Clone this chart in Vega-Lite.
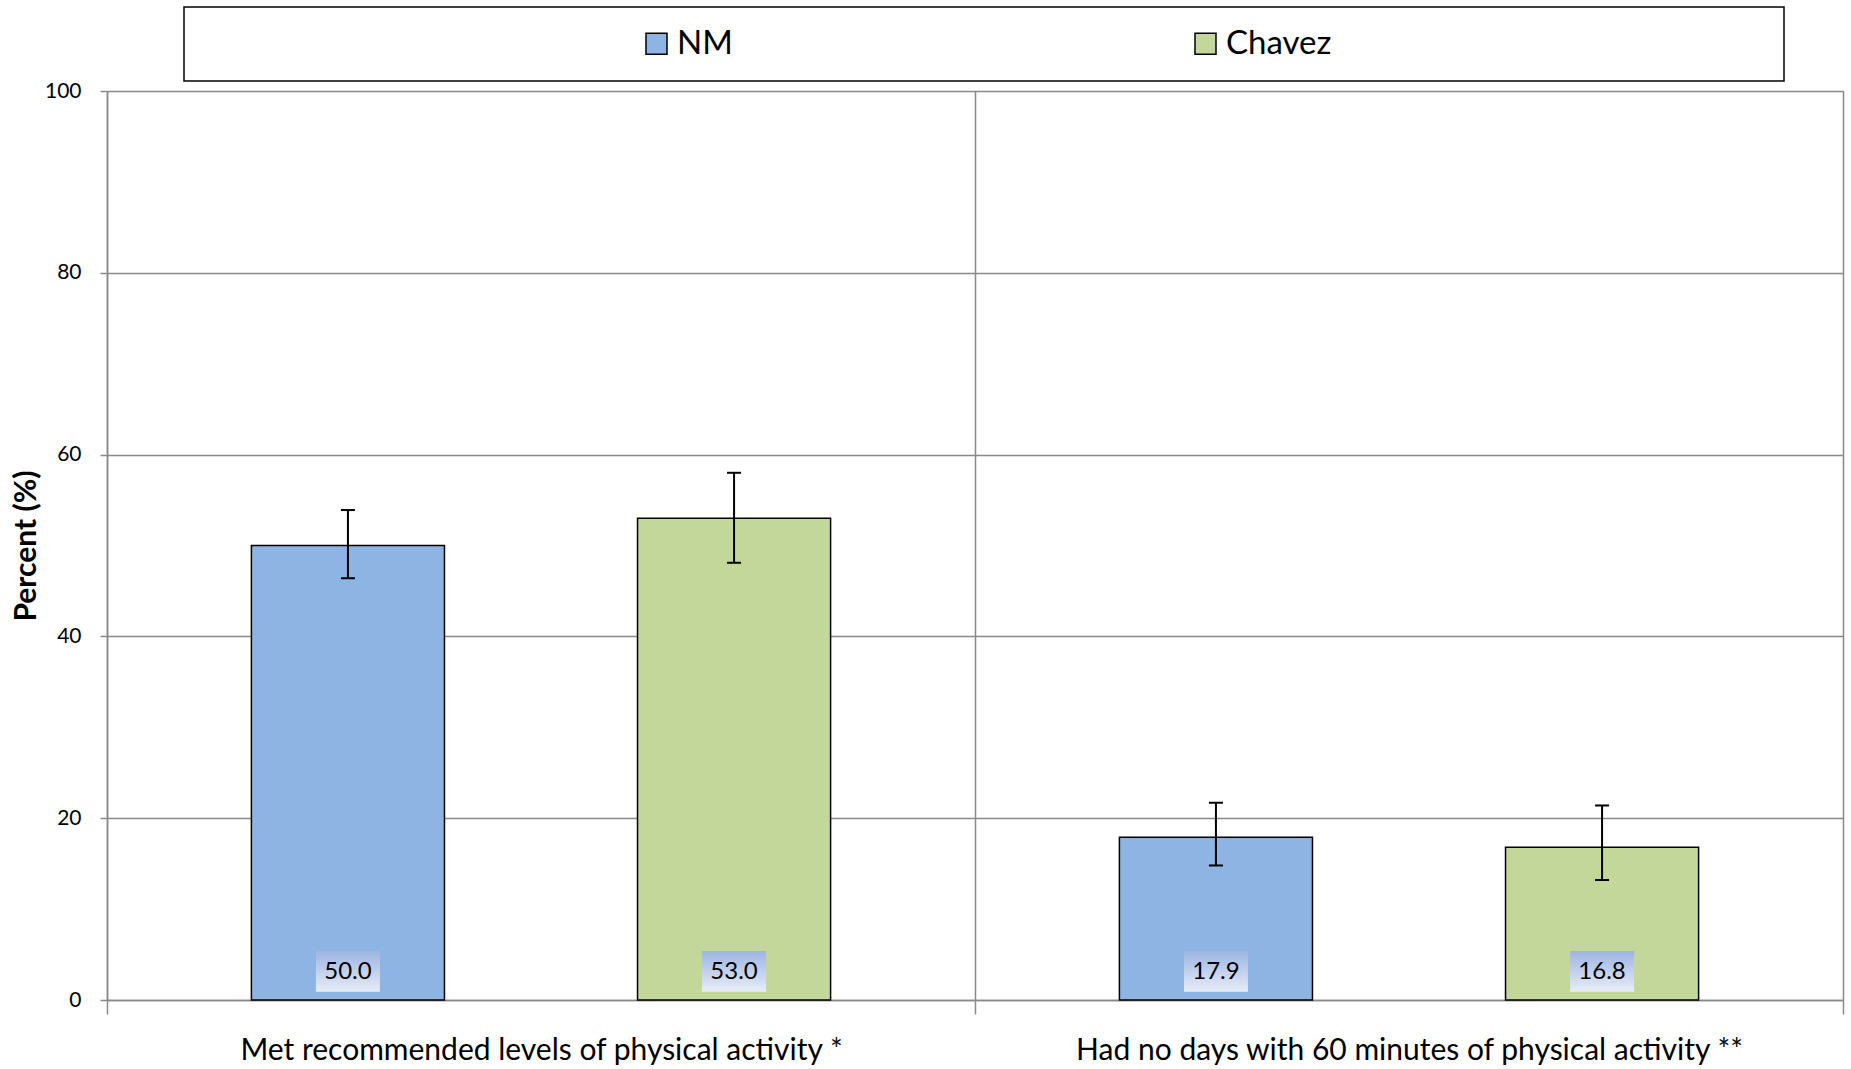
{
  "$schema": "https://vega.github.io/schema/vega-lite/v6.json",
  "width": 1736,
  "height": 909,
  "autosize": {"type": "none"},
  "padding": {"left": 107, "top": 91, "right": 8, "bottom": 69},
  "background": "white",
  "config": {"font": "Lato", "view": {"stroke": null}, "legend": {"strokeWidth": 1.5}},
  "data": {
    "values": [
      {"measure": "Met recommended levels of physical activity *", "group": "NM", "pct": 50.0, "lo": 46.4, "hi": 53.9},
      {"measure": "Met recommended levels of physical activity *", "group": "Chavez", "pct": 53.0, "lo": 48.1, "hi": 58.0},
      {"measure": "Had no days with 60 minutes of physical activity **", "group": "NM", "pct": 17.9, "lo": 14.8, "hi": 21.7},
      {"measure": "Had no days with 60 minutes of physical activity **", "group": "Chavez", "pct": 16.8, "lo": 13.2, "hi": 21.4}
    ]
  },
  "encoding": {
    "x": {
      "field": "measure",
      "type": "nominal",
      "sort": null,
      "scale": {"paddingInner": 0, "paddingOuter": 0},
      "axis": {
        "title": null,
        "labelAngle": 0,
        "labelFontSize": 30,
        "labelColor": "black",
        "labelLimit": 1000,
        "tickBand": "extent",
        "tickSize": 14,
        "tickWidth": 1.5,
        "tickColor": "#898989",
        "labelPadding": 21,
        "grid": true,
        "gridColor": "#898989",
        "gridWidth": 1.5,
        "domainColor": "#898989",
        "domainWidth": 1.5
      }
    },
    "xOffset": {
      "field": "group",
      "type": "nominal",
      "sort": ["NM", "Chavez"],
      "scale": {"paddingInner": 0.5, "paddingOuter": 0.374}
    }
  },
  "layer": [
    {
      "mark": {"type": "bar", "stroke": "black", "strokeWidth": 1.5, "opacity": 1},
      "encoding": {
        "y": {
          "field": "pct",
          "type": "quantitative",
          "scale": {"domain": [0, 100]},
          "axis": {
            "values": [0, 20, 40, 60, 80, 100],
            "title": "Percent (%)",
            "titleFontSize": 30,
            "titleFontWeight": "bold",
            "titleColor": "black",
            "titlePadding": 3,
            "labelFontSize": 21,
            "labelColor": "black",
            "labelPadding": 19,
            "tickSize": 7,
            "tickWidth": 1.5,
            "tickColor": "#898989",
            "grid": true,
            "gridColor": "#898989",
            "gridWidth": 1.5,
            "domainColor": "#898989",
            "domainWidth": 1.5
          }
        },
        "color": {
          "field": "group",
          "type": "nominal",
          "scale": {"domain": ["NM", "Chavez"], "range": ["#8eb4e3", "#c4d79b"]},
          "legend": {
            "orient": "none",
            "legendX": 77,
            "legendY": -84,
            "direction": "horizontal",
            "title": "\u00a0",
            "titleOrient": "left",
            "titlePadding": 436,
            "titleFontSize": 10,
            "padding": 20,
            "strokeColor": "black",
            "symbolType": "square",
            "symbolSize": 441,
            "symbolStrokeColor": "black",
            "symbolStrokeWidth": 1.5,
            "symbolOpacity": 1,
            "labelFontSize": 33,
            "labelColor": "black",
            "labelOffset": 4,
            "labelLimit": 1000,
            "columnPadding": 456,
            "labelExpr": "datum.label == 'Chavez' ? pad('Chavez', 24, '\u2800') : datum.label"
          }
        }
      }
    },
    {
      "mark": {"type": "rule", "strokeWidth": 2, "color": "black"},
      "encoding": {
        "y": {"field": "lo", "type": "quantitative"},
        "y2": {"field": "hi"}
      }
    },
    {
      "mark": {"type": "tick", "thickness": 2, "size": 14, "color": "black", "opacity": 1},
      "encoding": {"y": {"field": "lo", "type": "quantitative"}}
    },
    {
      "mark": {"type": "tick", "thickness": 2, "size": 14, "color": "black", "opacity": 1},
      "encoding": {"y": {"field": "hi", "type": "quantitative"}}
    },
    {
      "mark": {
        "type": "bar",
        "width": 64,
        "stroke": null,
        "opacity": 1,
        "fill": {
          "gradient": "linear",
          "x1": 0, "y1": 0, "x2": 0, "y2": 1,
          "stops": [
            {"offset": 0, "color": "#9db4e2"},
            {"offset": 1, "color": "#e8edf7"}
          ]
        }
      },
      "encoding": {
        "y": {"datum": 0.9, "type": "quantitative"},
        "y2": {"datum": 5.4}
      }
    },
    {
      "mark": {"type": "text", "fontSize": 24, "color": "black", "baseline": "middle"},
      "encoding": {
        "y": {"datum": 3.1, "type": "quantitative"},
        "text": {"field": "pct", "type": "quantitative", "format": ".1f"}
      }
    }
  ]
}
